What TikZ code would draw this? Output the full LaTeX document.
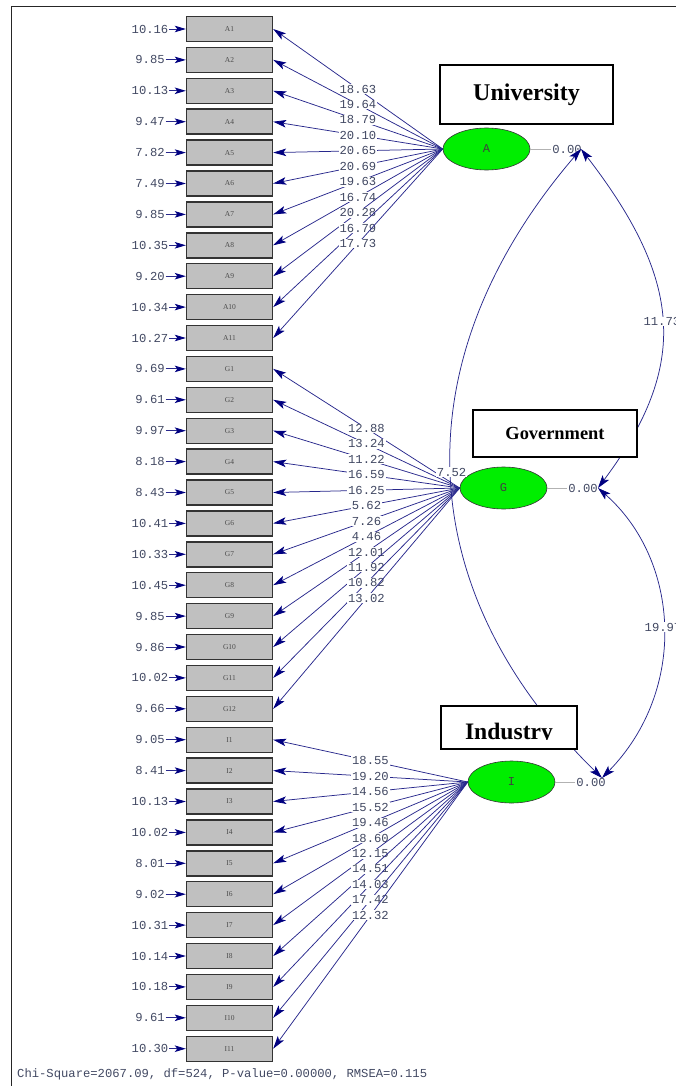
\documentclass[tikz,border=0pt]{standalone}
\usepackage{fontspec}
\setmainfont{Liberation Serif}
\setmonofont{Liberation Mono}
\usepackage{tikz}
\usetikzlibrary{arrows.meta,shapes.geometric,calc}
\definecolor{pathblue}{RGB}{40,40,140}
\definecolor{tipblue}{RGB}{0,0,128}
\definecolor{numgray}{RGB}{65,72,98}
\definecolor{boxgray}{RGB}{192,192,192}
\definecolor{latgreen}{RGB}{0,238,0}

\begin{document}
\begin{tikzpicture}[x=1pt,y=-1pt,
  obsbox/.style={draw=black!80,line width=1.4pt,fill=boxgray,minimum width=86pt,minimum height=25pt,inner sep=0pt,font=\fontsize{7.5}{8}\selectfont,text=black!70},
  latent/.style={ellipse,draw=black!80,line width=0.6pt,fill=latgreen,minimum width=87pt,minimum height=42pt,inner sep=0pt,font=\ttfamily\fontsize{12}{12}\selectfont,text=black!75},
  num/.style={font=\ttfamily\fontsize{12.2}{12}\selectfont,text=numgray,inner sep=0.8pt},
  numw/.style={num,fill=white},
  load/.style={draw=pathblue,line width=0.75pt,-{Stealth[length=13pt,width=7.5pt,inset=3pt,color=tipblue]}},
  err/.style={draw=pathblue,line width=0.9pt,-{Stealth[length=11pt,width=6.5pt,inset=2.5pt,color=tipblue]}},
  cov/.style={draw=pathblue,line width=0.75pt,{Stealth[length=13pt,width=8pt,inset=3pt,color=tipblue]}-{Stealth[length=13pt,width=8pt,inset=3pt,color=tipblue]}},
  zero/.style={draw=black!30,line width=0.8pt},
  titlebox/.style={draw=black,line width=1.3pt,fill=white,inner sep=0pt}]
\useasboundingbox (0,0) rectangle (676,1086);
% frame
\draw[line width=1.5pt,black!85] (11.5,1090) -- (11.5,6.3) -- (680,6.3);

% latent variables
\node[latent] (latA) at (486.5,149) {A};
\node[latent] (latG) at (503.5,488) {G};
\node[latent] (latI) at (511.5,782) {I};

% University items
\foreach \ld/\er [count=\k] in {18.63/10.16,19.64/9.85,18.79/10.13,20.10/9.47,20.65/7.82,20.69/7.49,19.63/9.85,16.74/10.35,20.28/9.20,16.79/10.34,17.73/10.27}{
  \pgfmathsetmacro\yy{29+30.9*(\k-1)}
  \node[obsbox] (A\k) at (229.5,\yy) {A\k};
  \node[num] (eA\k) at (150,\yy) {\er};
  \draw[err] (eA\k) -- (A\k);
  \draw[load] (latA.west) -- node[numw]{\ld} (A\k.east);
}
% Government items
\foreach \ld/\er [count=\k] in {12.88/9.69,13.24/9.61,11.22/9.97,16.59/8.18,16.25/8.43,5.62/10.41,7.26/10.33,4.46/10.45,12.01/9.85,11.92/9.86,10.82/10.02,13.02/9.66}{
  \pgfmathsetmacro\yy{29+30.9*(10+\k)}
  \node[obsbox] (G\k) at (229.5,\yy) {G\k};
  \node[num] (eG\k) at (150,\yy) {\er};
  \draw[err] (eG\k) -- (G\k);
  \draw[load] (latG.west) -- node[numw]{\ld} (G\k.east);
}
% Industry items
\foreach \ld/\er [count=\k] in {18.55/9.05,19.20/8.41,14.56/10.13,15.52/10.02,19.46/8.01,18.60/9.02,12.15/10.31,14.51/10.14,14.03/10.18,17.42/9.61,12.32/10.30}{
  \pgfmathsetmacro\yy{29+30.9*(22+\k)}
  \node[obsbox] (I\k) at (229.5,\yy) {I\k};
  \node[num] (eI\k) at (150,\yy) {\er};
  \draw[err] (eI\k) -- (I\k);
  \draw[load] (latI.west) -- node[numw]{\ld} (I\k.east);
}

% variances of the latents
\node[num] (zA) at (567,149) {0.00};
\node[num] (zG) at (583,488) {0.00};
\node[num] (zI) at (591,782) {0.00};
\draw[zero] (latA.east) -- (zA.west);
\draw[zero] (latG.east) -- (zG.west);
\draw[zero] (latI.east) -- (zI.west);
\coordinate (cA) at (581,149);
\coordinate (cG) at (598,488);
\coordinate (cI) at (602,778);

% covariances
\draw[cov] (cA) .. controls (682,280) and (690,365) .. (cG) node[pos=0.5,numw]{11.73};
\draw[cov] (cG) .. controls (680,560) and (688,690) .. (cI) node[pos=0.5,numw]{19.97};
\draw[cov] (cA) .. controls (400,360) and (410,590) .. (cI) node[pos=0.5,numw]{7.52};

% titles
\node[titlebox,minimum width=173pt,minimum height=59pt,font=\bfseries\fontsize{24}{24}\selectfont] (tU) at (526.5,94.5) {University};
\node[titlebox,minimum width=164pt,minimum height=47pt,font=\bfseries\fontsize{18.4}{18}\selectfont] (tG) at (555,433.5) {Government};
\node[titlebox,minimum width=136pt,minimum height=43pt] (tI) at (509,727.5) {};
\begin{scope}
  \clip (441,706) rectangle (577,739.5);
  \node[anchor=base,inner sep=0pt,font=\bfseries\fontsize{23.6}{24}\selectfont] (tItext) at (509,739) {Industry};
\end{scope}

\node[num,anchor=west,inner sep=0pt] (fitstat) at (17,1074) {Chi-Square=2067.09, df=524, P-value=0.00000, RMSEA=0.115};
\end{tikzpicture}
\end{document}
